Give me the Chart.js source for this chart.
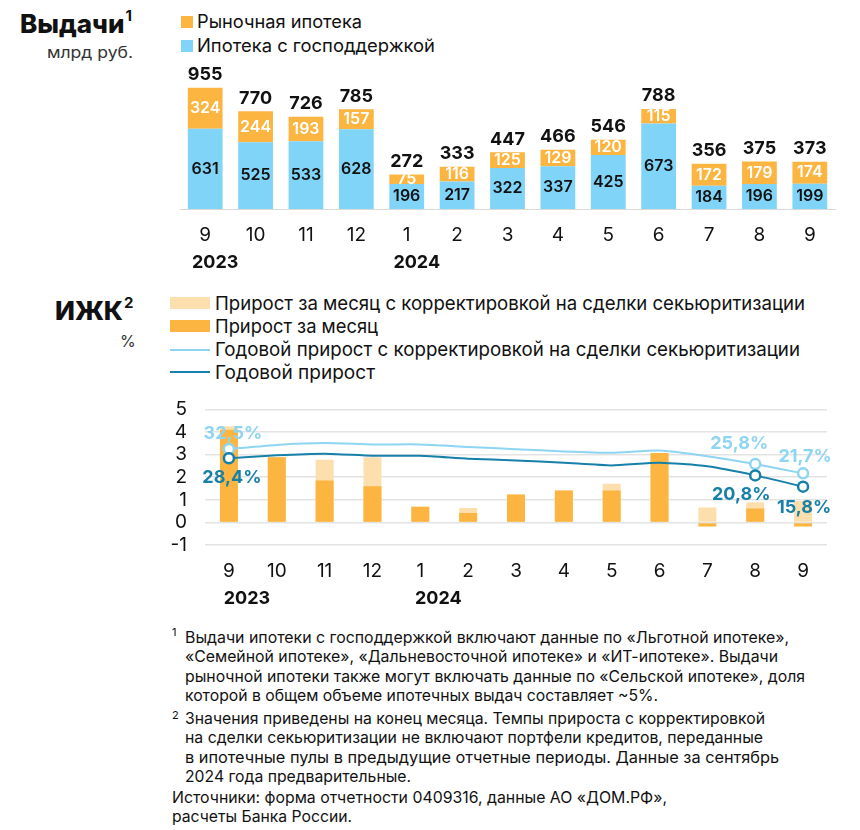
<!DOCTYPE html>
<html><head><meta charset="utf-8">
<script src="https://cdn.jsdelivr.net/npm/chart.js@4.4.1/dist/chart.umd.min.js"></script>
<style>
body{margin:0;background:#fff;}
#wrap{position:relative;width:860px;height:830px;overflow:hidden;font-family:Inter,"Open Sans",sans-serif;color:#111;}
.t{position:absolute;white-space:nowrap;line-height:1;transform-origin:0 50%;}
.title{font-size:26px;font-weight:800;}
.title sup{font-size:15px;font-weight:700;vertical-align:top;position:relative;top:-3px;margin-left:1px}
.unit{font-size:16px;color:#333;}
.leg{font-size:18px;}
.leg2{font-size:19px;}
.fn{font-size:16px;}
.sw{position:absolute;}
canvas{position:absolute;left:0;}
</style></head>
<body><div id="wrap">
  <div class="t title" style="left:20px;top:11px">Выдачи<sup>1</sup></div>
  <div class="t unit" style="left:47px;top:44px" data-w="86">млрд руб.</div>
  <div class="sw" style="left:181px;top:16px;width:12px;height:12px;background:#FBB540"></div>
  <div class="t leg" style="left:197px;top:13px" data-w="165">Рыночная ипотека</div>
  <div class="sw" style="left:181px;top:40px;width:12px;height:12px;background:#80D4F7"></div>
  <div class="t leg" style="left:197px;top:37px" data-w="238">Ипотека с господдержкой</div>

  <canvas id="c1" width="860" height="290" style="top:0"></canvas>

  <div class="t title" style="left:55px;top:298px">ИЖК<sup>2</sup></div>
  <div class="t unit" style="left:120px;top:333px">%</div>
  <div class="sw" style="left:170px;top:297px;width:40px;height:12px;background:#FDDFAE"></div>
  <div class="t leg2" style="left:215px;top:294px" data-w="590">Прирост за месяц с корректировкой на сделки секьюритизации</div>
  <div class="sw" style="left:170px;top:320px;width:40px;height:12px;background:#FBB540"></div>
  <div class="t leg2" style="left:215px;top:317px" data-w="163">Прирост за месяц</div>
  <div class="sw" style="left:170px;top:349px;width:40px;height:2px;background:#8ED5F2"></div>
  <div class="t leg2" style="left:215px;top:340px" data-w="585">Годовой прирост с корректировкой на сделки секьюритизации</div>
  <div class="sw" style="left:170px;top:371px;width:40px;height:2px;background:#1780A8"></div>
  <div class="t leg2" style="left:215px;top:363px" data-w="160">Годовой прирост</div>

  <canvas id="c2" width="860" height="230" style="top:380px"></canvas>

  <div class="t fn" style="left:172px;top:627px;font-size:11px">1</div>
  <div class="t fn" style="left:185px;top:629px" data-w="604">Выдачи ипотеки с господдержкой включают данные по «Льготной ипотеке»,</div>
  <div class="t fn" style="left:185px;top:648px" data-w="593">«Семейной ипотеке», «Дальневосточной ипотеке» и «ИТ-ипотеке». Выдачи</div>
  <div class="t fn" style="left:185px;top:668px" data-w="620">рыночной ипотеки также могут включать данные по «Сельской ипотеке», доля</div>
  <div class="t fn" style="left:185px;top:687px" data-w="473">которой в общем объеме ипотечных выдач составляет ~5%.</div>
  <div class="t fn" style="left:172px;top:710px;font-size:11px">2</div>
  <div class="t fn" style="left:185px;top:710px" data-w="580">Значения приведены на конец месяца. Темпы прироста с корректировкой</div>
  <div class="t fn" style="left:185px;top:729px" data-w="578">на сделки секьюритизации не включают портфели кредитов, переданные</div>
  <div class="t fn" style="left:185px;top:749px" data-w="594">в ипотечные пулы в предыдущие отчетные периоды. Данные за сентябрь</div>
  <div class="t fn" style="left:185px;top:768px" data-w="226">2024 года предварительные.</div>
  <div class="t fn" style="left:172px;top:789px" data-w="495">Источники: форма отчетности 0409316, данные АО «ДОМ.РФ»,</div>
  <div class="t fn" style="left:172px;top:808px" data-w="180">расчеты Банка России.</div>
</div>
<script>
const months = ['9','10','11','12','1','2','3','4','5','6','7','8','9'];
const yearLabels = ['2023','','','','2024','','','','','','','',''];
const govSupported = [631,525,533,628,196,217,322,337,425,673,184,196,199];
const market = [324,244,193,157,75,116,125,129,120,115,172,179,174];
const totals = [955,770,726,785,272,333,447,466,546,788,356,375,373];
const monthlyGrowth = [4.1,2.88,1.85,1.6,0.69,0.42,1.24,1.41,1.41,3.07,-0.18,0.61,-0.18];
const monthlyGrowthAdj = [4.25,2.88,2.77,2.88,0.69,0.64,1.24,1.41,1.71,3.07,0.66,0.89,0.95];
const annualGrowthAdj = [32.5,34.3,35.1,34.5,34.5,33.4,32.4,31.4,30.8,31.8,29.3,25.8,21.7];
const annualGrowth = [28.4,29.7,30.4,29.5,29.5,28.2,27.4,26.4,25.2,26.4,24.8,20.8,15.8];
const markedPoints = [0,11,12];

const FONT = 'Inter, "Open Sans", sans-serif';
const COL = {orange:'#FBB540', blue:'#80D4F7', lightOrange:'#FDDFAE', lineLight:'#8ED5F2', lineDark:'#1780A8', grid:'#E3E3E3'};

// fit text widths
document.querySelectorAll('[data-w]').forEach(el=>{
  const w = el.getBoundingClientRect().width;
  const target = parseFloat(el.dataset.w);
  if (w>0) el.style.transform = 'scaleX(' + (target/w).toFixed(4) + ')';
});

const topLabels = {
  id:'topLabels',
  afterDatasetsDraw(chart){
    const ctx = chart.ctx;
    const mB = chart.getDatasetMeta(0), mO = chart.getDatasetMeta(1);
    ctx.save();
    ctx.textAlign='center'; ctx.textBaseline='middle';
    months.forEach((m,i)=>{
      const b = mB.data[i], o = mO.data[i];
      ctx.font = '600 16px ' + FONT;
      ctx.fillStyle = '#111';
      ctx.fillText(String(govSupported[i]), b.x, (b.y+b.base)/2);
      ctx.fillStyle = '#fff';
      ctx.fillText(String(market[i]), o.x, (o.y+o.base)/2);
      ctx.font = '700 18px ' + FONT;
      ctx.fillStyle = '#111';
      ctx.fillText(String(totals[i]), o.x, o.y - 13);
    });
    ctx.restore();
  }
};

new Chart(document.getElementById('c1'), {
  type:'bar',
  data:{labels:months, datasets:[
    {label:'Ипотека с господдержкой', data:govSupported, backgroundColor:COL.blue, barPercentage:0.69, categoryPercentage:1},
    {label:'Рыночная ипотека', data:market, backgroundColor:COL.orange, barPercentage:0.69, categoryPercentage:1}
  ]},
  options:{
    responsive:false, animation:false, devicePixelRatio:1,
    layout:{padding:{left:180,right:25,top:82,bottom:16}},
    plugins:{legend:{display:false}, tooltip:{enabled:false}},
    scales:{
      x:{stacked:true, grid:{display:false, drawTicks:false}, border:{display:true,color:'#DADADA',width:1},
         ticks:{padding:15,color:'#111',font:{family:FONT,size:19}}, afterFit(s){s.height=37;}},
      x2:{type:'category', position:'bottom', labels:yearLabels, offset:true, grid:{display:false,drawTicks:false}, border:{display:false},
         ticks:{padding:6,labelOffset:10,autoSkip:false,maxRotation:0,color:'#111',font:{family:FONT,size:18,weight:'700'}}, afterFit(s){s.height=28;}},
      y:{stacked:true, display:false, min:0, max:1000}
    }
  },
  plugins:[topLabels]
});

const fmt = v => v.toFixed(1).replace('.', ',') + '%';
const growthLabels = {
  id:'growthLabels',
  afterDatasetsDraw(chart){
    const ctx = chart.ctx;
    const offs = {
      0:{0:[3,19],11:[-14,19],12:[1,21]},
      1:{0:[4,-15],11:[-16,-20],12:[2,-17]}
    };
    ctx.save();
    ctx.textAlign='center'; ctx.textBaseline='middle';
    ctx.font = '700 18px ' + FONT;
    [0,1].forEach(di=>{
      const meta = chart.getDatasetMeta(di);
      const ds = chart.data.datasets[di];
      ctx.fillStyle = ds.borderColor;
      markedPoints.forEach(i=>{
        const p = meta.data[i];
        const o = offs[di][i];
        ctx.fillText(fmt(ds.data[i]), p.x + o[0], p.y + o[1]);
      });
    });
    ctx.restore();
  }
};

const ptRadius = c => markedPoints.includes(c.dataIndex) ? 5 : 0;
new Chart(document.getElementById('c2'), {
  type:'bar',
  data:{labels:months, datasets:[
    {type:'line', label:'Годовой прирост', data:annualGrowth, yAxisID:'y2', borderColor:COL.lineDark, borderWidth:2, tension:0.2,
     pointRadius:ptRadius, pointBackgroundColor:'#fff', pointBorderColor:COL.lineDark, pointBorderWidth:2.5},
    {type:'line', label:'Годовой прирост с корректировкой на сделки секьюритизации', data:annualGrowthAdj, yAxisID:'y2', borderColor:COL.lineLight, borderWidth:2, tension:0.2,
     pointRadius:ptRadius, pointBackgroundColor:'#fff', pointBorderColor:COL.lineLight, pointBorderWidth:2.5},
    {type:'bar', label:'Прирост за месяц', data:monthlyGrowth, backgroundColor:COL.orange, grouped:false, barPercentage:0.376, categoryPercentage:1},
    {type:'bar', label:'Прирост за месяц с корректировкой на сделки секьюритизации', data:monthlyGrowthAdj, backgroundColor:COL.lightOrange, grouped:false, barPercentage:0.376, categoryPercentage:1}
  ]},
  options:{
    responsive:false, animation:false, devicePixelRatio:1,
    layout:{padding:{left:0,right:33,top:23,bottom:0}},
    plugins:{legend:{display:false}, tooltip:{enabled:false}},
    scales:{
      x:{offset:true, grid:{display:false, drawTicks:false}, border:{display:false},
         ticks:{padding:15,color:'#111',font:{family:FONT,size:19}}, afterFit(s){s.height=37;}},
      x2:{type:'category', position:'bottom', labels:yearLabels, offset:true, grid:{display:false,drawTicks:false}, border:{display:false},
         ticks:{padding:6,labelOffset:18,autoSkip:false,maxRotation:0,color:'#111',font:{family:FONT,size:18,weight:'700'}}, afterFit(s){s.height=28;}},
      y:{min:-1, max:5, ticks:{stepSize:1, autoSkip:false, padding:18, color:'#111', font:{family:FONT,size:19}},
         grid:{color:COL.grid, lineWidth:1.5, drawTicks:false}, border:{display:false}, afterFit(s){s.width=205;}},
      y2:{display:false, min:-10, max:50}
    }
  },
  plugins:[growthLabels]
});
</script>
</body></html>
